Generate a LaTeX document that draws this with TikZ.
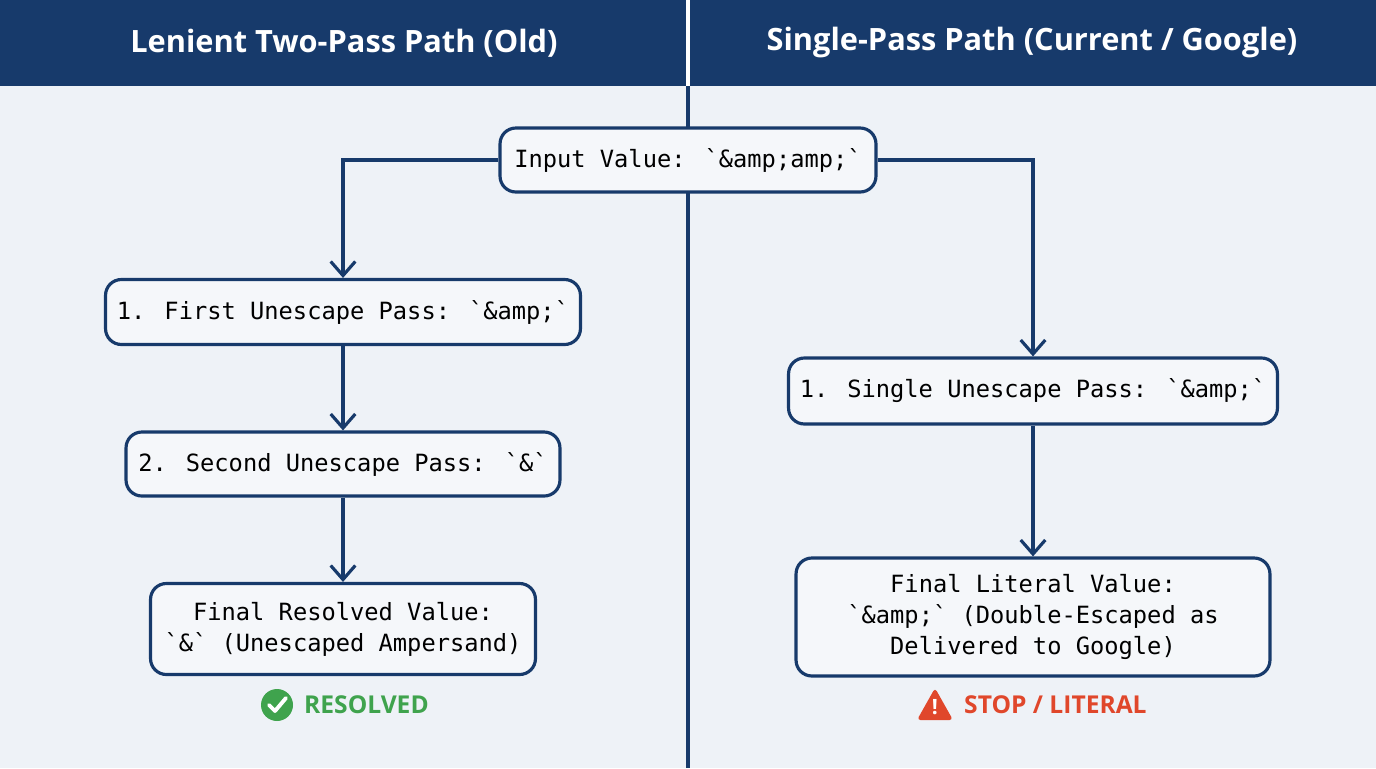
\documentclass[tikz,border=0pt]{standalone}
\usepackage{fontspec}
\setmainfont{Open Sans}
\newfontfamily\monofam{DejaVu Sans Mono}
\usetikzlibrary{arrows.meta}
\definecolor{navy}{HTML}{173A6B}
\definecolor{paper}{HTML}{EEF2F7}
\definecolor{okgreen}{HTML}{3FA34D}
\definecolor{stopred}{HTML}{E0472B}
\begin{document}
\begin{tikzpicture}[x=0.02cm, y=-0.02cm,
    passbox/.style={draw=navy, line width=1.8pt, rounded corners=9pt, fill=paper!60!white,
        font=\monofam\fontsize{13.5}{17.6}\selectfont, text=black, align=center, inner sep=0pt},
    flow/.style={draw=navy, line width=1.8pt, -{Straight Barb[length=8pt,width=14pt]}},
    head/.style={font=\bfseries\fontsize{17.5}{21}\selectfont, text=white}]
        \useasboundingbox (0,0) rectangle (1376,768);
        \fill[paper] (0,0) rectangle (1376,768);
        \fill[navy] (0,0) rectangle (1376,86);
        \draw[white, line width=2pt] (688,0) -- (688,86);
        \draw[navy, line width=1.8pt] (688,86) -- (688,768);
        \node[head] (hl) at (344,43) {Lenient Two-Pass Path (Old)};
        \node[head] (hr) at (1032,43) {Single-Pass Path (Current / Google)};
        % nodes
        \node[passbox, minimum width=7.52cm, minimum height=1.28cm] (input) at (688,160) {Input Value: `\&amp;amp;`};
        \node[passbox, minimum width=9.5cm, minimum height=1.3cm] (first) at (343,312) {1. First Unescape Pass: `\&amp;`};
        \node[passbox, minimum width=8.68cm, minimum height=1.28cm] (second) at (343,464) {2. Second Unescape Pass: `\&`};
        \node[passbox, minimum width=7.7cm, minimum height=1.82cm] (resolved) at (343,629) {Final Resolved Value:\\`\&` (Unescaped Ampersand)};
        \node[passbox, minimum width=9.78cm, minimum height=1.32cm] (single) at (1033,391) {1. Single Unescape Pass: `\&amp;`};
        \node[passbox, minimum width=9.48cm, minimum height=2.36cm] (literal) at (1033,617) {Final Literal Value:\\`\&amp;` (Double-Escaped as\\Delivered to Google)};
        % connectors
        \draw[flow] (input.west) -| (first.north);
        \draw[flow] (input.east) -| (single.north);
        \draw[flow] (first) -- (second);
        \draw[flow] (second) -- (resolved);
        \draw[flow] (single) -- (literal);
        % status marks
        \fill[okgreen] (277,705) circle (16);
        \draw[white, line width=2.2pt, line cap=round, line join=round] (269,705) -- (275,711) -- (286,698);
        \node[font=\bfseries\fontsize{14}{17}\selectfont, text=okgreen, anchor=west] (ok) at (298,705) {RESOLVED};
        \fill[stopred, rounded corners=2pt] (935,688) -- (953,720) -- (917,720) -- cycle;
        \node[font=\bfseries\fontsize{12}{14}\selectfont, text=white] (bang) at (935,707) {!};
        \node[font=\bfseries\fontsize{14}{17}\selectfont, text=stopred, anchor=west] (stop) at (958,705) {STOP / LITERAL};
\end{tikzpicture}
\end{document}
